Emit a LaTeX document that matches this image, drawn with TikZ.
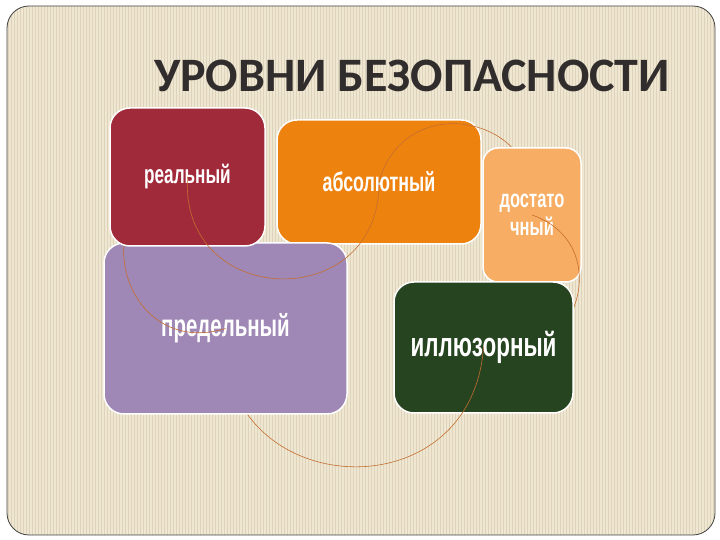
\documentclass[tikz,border=0pt]{standalone}
\usepackage{fontspec}
\setmainfont{Liberation Sans}
\newfontfamily\titlefont{Carlito}
\newfontfamily\blokfont[FakeStretch=0.66]{Liberation Sans}

\definecolor{fon}{RGB}{239,231,210}
\definecolor{polosa}{RGB}{221,211,186}
\definecolor{krasn}{RGB}{160,42,58}
\definecolor{oranzh}{RGB}{238,130,14}
\definecolor{svetl}{RGB}{247,173,99}
\definecolor{siren}{RGB}{159,136,182}
\definecolor{zelen}{RGB}{39,68,33}
\definecolor{dugacol}{RGB}{196,110,48}
\definecolor{zagol}{RGB}{50,45,45}

\pgfdeclarelayer{sfon}
\pgfdeclarelayer{s1}
\pgfdeclarelayer{s2}
\pgfdeclarelayer{s3}
\pgfdeclarelayer{s4}
\pgfdeclarelayer{s5}
\pgfdeclarelayer{s6}
\pgfdeclarelayer{s7}
\pgfdeclarelayer{s8}
\pgfdeclarelayer{s9}
\pgfsetlayers{sfon,s1,s2,s3,s4,s5,s6,s7,s8,s9,main}

\tikzset{
  blok/.style={draw=white, line width=1.5pt, rounded corners=20pt, text=white,
    inner sep=0pt, align=center},
  razmer/.style={font=\blokfont\bfseries\fontsize{#1}{28}\selectfont},
  duga/.style={draw=dugacol, line width=0.6pt},
}

\begin{document}
\begin{tikzpicture}[x=1pt, y=1pt]
            \useasboundingbox (0,0) rectangle (720,540);

            % background of the slide
            \begin{pgfonlayer}{sfon}
            \fill[white] (0,0) rectangle (720,540);
            \begin{scope}
            \clip[rounded corners=22pt] (7,5) rectangle (715,534);
            \fill[fon] (7,5) rectangle (715,534);
            \foreach \x in {8,11,...,714}
                \draw[polosa, line width=1pt] (\x,5) -- (\x,534);
            \end{scope}
            \draw[black!75, line width=0.8pt, rounded corners=22pt] (7,5) rectangle (715,534);
            \end{pgfonlayer}

            \node[font=\titlefont\bfseries\fontsize{48}{56}\selectfont, text=zagol, anchor=base]
                (zagolovok) at (412,448) {УРОВНИ БЕЗОПАСНОСТИ};

            % blocks
            \begin{pgfonlayer}{s1}
            \node[blok, fill=oranzh, minimum width=204pt, minimum height=124pt, razmer=27]
                (absol) at (379,358) {абсолютный};
            \end{pgfonlayer}
            \begin{pgfonlayer}{s3}
            \node[blok, fill=svetl, minimum width=98pt, minimum height=134pt, rounded corners=15pt,
                razmer=25]
                (dostat) at (532,325) {достато\\чный};
            \end{pgfonlayer}
            \begin{pgfonlayer}{s5}
            \node[blok, fill=zelen, minimum width=179pt, minimum height=131pt, razmer=34]
                (illyuz) at (483.5,192.5) {иллюзорный};
            \end{pgfonlayer}
            \begin{pgfonlayer}{s7}
            \node[blok, fill=siren, minimum width=243pt, minimum height=171pt, razmer=31]
                (predel) at (225.5,211.5) {предельный};
            \end{pgfonlayer}
            \begin{pgfonlayer}{s9}
            \node[blok, fill=krasn, minimum width=155pt, minimum height=138pt, razmer=26]
                (real) at (187.5,363) {реальный};
            \end{pgfonlayer}

            % arcs between the blocks
            \begin{pgfonlayer}{s2}
            \draw[duga] (absol.center) to[bend left=87, looseness=1.63] (dostat.center);
            \end{pgfonlayer}
            \begin{pgfonlayer}{s4}
            \draw[duga] (dostat.center) to[bend left=91, looseness=1.72] (illyuz.center);
            \end{pgfonlayer}
            \begin{pgfonlayer}{s6}
            \draw[duga] (illyuz.center) to[bend left=90, looseness=1.70] (predel.center);
            \end{pgfonlayer}
            \begin{pgfonlayer}{s8}
            \draw[duga] (predel.center) to[bend left=93, looseness=1.81] (real.center);
            \end{pgfonlayer}
            \draw[duga] (real.center) to[bend right=92, looseness=1.77] (absol.center);
\end{tikzpicture}
\end{document}
